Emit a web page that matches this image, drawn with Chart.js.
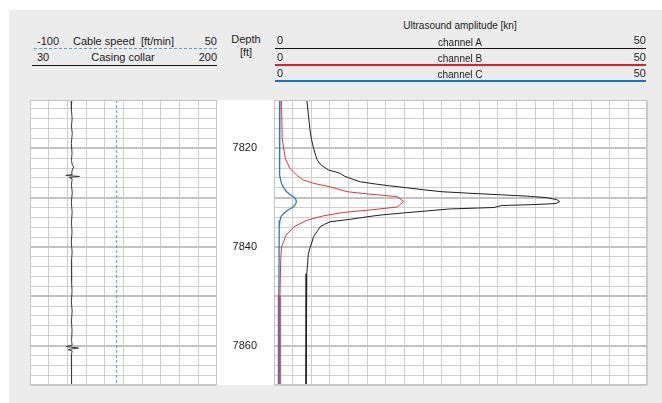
<!DOCTYPE html>
<html>
<head>
<meta charset="utf-8">
<script src="https://cdn.jsdelivr.net/npm/chart.js@4.4.0/dist/chart.umd.min.js"></script>
<style>
    body { margin: 0; width: 662px; height: 403px; background: #fff; overflow: hidden; position: relative;
           font-family: "Liberation Sans", Arial, sans-serif; color: #222; }
    #card { position: absolute; left: 9px; top: 10px; width: 653px; height: 393px; background: #ececec; }
    .t { position: absolute; font-size: 11px; line-height: 13px; white-space: nowrap; z-index: 2; }
    .s { font-size: 10px; }
    .c { text-align: center; width: 200px; }
    .hl { position: absolute; height: 1px; background-color: #111; z-index: 2; }
    .red { background-color: #e0202c; height: 2px; }
    .blue { background-color: #1a70d0; height: 2px; }
    .dash { position: absolute; height: 1px; z-index: 2;
            background: repeating-linear-gradient(90deg, #5b9bd5 0 3px, transparent 3px 5px); }
    canvas { position: absolute; z-index: 1; }
</style>
</head>
<body>
<div id="card"></div>

<!-- left track header -->
<div class="t" style="left:37px;top:35px">-100</div>
<div class="t" style="left:73px;top:35px">Cable speed</div>
<div class="t" style="left:141px;top:35px">[ft/min]</div>
<div class="t" style="right:445px;top:35px">50</div>
<div class="dash" style="left:34px;top:48px;width:183px"></div>
<div class="t" style="left:37px;top:51px">30</div>
<div class="t c" style="left:23px;top:51px">Casing collar</div>
<div class="t" style="right:445px;top:51px">200</div>
<div class="hl" style="left:32px;top:65px;width:185px"></div>

<!-- depth header -->
<div class="t c" style="left:146px;top:33px">Depth</div>
<div class="t c" style="left:146px;top:46px">[ft]</div>

<!-- right track header -->
<div class="t s c" style="left:360px;top:19px">Ultrasound amplitude [kn]</div>
<div class="t" style="left:277px;top:34px">0</div>
<div class="t s c" style="left:360px;top:36px">channel A</div>
<div class="t" style="right:16px;top:34px">50</div>
<div class="hl" style="left:275px;top:48px;width:371px"></div>
<div class="t" style="left:277px;top:51px">0</div>
<div class="t s c" style="left:360px;top:52px">channel B</div>
<div class="t" style="right:16px;top:51px">50</div>
<div class="hl red" style="left:275px;top:64px;width:371px"></div>
<div class="t" style="left:277px;top:67px">0</div>
<div class="t s c" style="left:360px;top:68px">channel C</div>
<div class="t" style="right:16px;top:67px">50</div>
<div class="hl blue" style="left:275px;top:80px;width:371px"></div>

<canvas id="left-track" width="207" height="305" style="left:20px;top:90px"></canvas>
<canvas id="right-track" width="450" height="335" style="left:207px;top:75px"></canvas>

<script>
// depth range and labels
const depthMin = 7810.2;
const depthMax = 7868.0;
const depthLabels = [7820, 7840, 7860];

// casing collar [30..200]
const collarDepth = [7810.2, 7812, 7814, 7815.5, 7817, 7819, 7821, 7822.5, 7823.4, 7823.8, 7824.2, 7825, 7825.3,
    7825.5, 7825.7, 7825.9, 7826.2, 7827.5, 7829, 7831, 7833, 7835, 7837, 7839, 7841, 7843, 7845, 7847, 7849,
    7851, 7853, 7855, 7857, 7859, 7859.9, 7860.2, 7860.5, 7860.8, 7861.1, 7862, 7864, 7866, 7868];
const collarValue = [68.0, 67.6, 68.3, 67.7, 68.4, 67.6, 68.2, 67.7, 68.5, 70.0, 68.6, 67.9, 68.4,
    62.5, 75.0, 65.5, 68.3, 67.7, 68.4, 67.6, 68.3, 67.7, 68.2, 67.5, 68.3, 67.7, 68.1, 67.5, 68.2,
    67.6, 68.3, 67.7, 68.2, 67.8, 68.3, 63.0, 74.0, 64.5, 68.3, 67.6, 68.0, 67.7, 67.6];

// cable speed [-100..50]
const cableDepth = [7810.2, 7868.0];
const cableValue = [-30.5, -30.5];

// ultrasound amplitude [0..50]
const chADepth = [7810.2, 7813, 7816, 7818, 7820, 7821.5, 7822.4, 7823.2, 7823.7, 7824.4, 7824.8, 7825.1, 7825.6,
    7826.1, 7826.8, 7827.3, 7827.6, 7828.0, 7828.4, 7828.8, 7829.1, 7829.4, 7829.7, 7830.0, 7830.4, 7830.8,
    7831.2, 7831.4, 7831.6, 7832.0, 7832.3, 7832.7, 7833.1, 7833.5, 7833.8, 7834.4, 7834.9, 7835.4, 7835.9,
    7836.8, 7837.9, 7839.0, 7840.3, 7841.5, 7843.5, 7845.4, 7848, 7855, 7868];
const chAValue = [4.4, 4.6, 4.8, 5.0, 5.3, 5.6, 5.8, 6.2, 6.6, 7.3, 8.3, 8.9, 9.4,
    10.2, 11.6, 13.9, 15.5, 17.8, 20.0, 22.5, 26.1, 30.0, 34.0, 36.5, 37.9, 38.3,
    37.8, 35.0, 30.5, 29.5, 23.5, 20.5, 17.4, 14.5, 12.9, 10.2, 7.5, 6.8, 6.2,
    5.8, 5.3, 5.1, 4.8, 4.6, 4.5, 4.4, 4.3, 4.3, 4.3];

const chBDepth = [7810.2, 7818, 7822, 7824, 7825.4, 7826.4, 7827.1, 7827.8, 7828.8, 7829.3, 7829.8, 7830.8,
    7831.9, 7832.5, 7833, 7833.7, 7834.6, 7835.9, 7837.6, 7839.3, 7840, 7842.7, 7850, 7868];
const chBValue = [1.0, 1.1, 1.5, 2.1, 3.0, 3.9, 5.3, 7.5, 9.8, 12.9, 16.5, 17.4,
    16.5, 12.9, 9.3, 6.6, 4.4, 2.7, 1.6, 1.2, 1.0, 0.9, 0.8, 0.8];

const chCDepth = [7810.2, 7818, 7822.7, 7825.5, 7827.1, 7828.0, 7828.8, 7829.3, 7829.8, 7830.3, 7830.8,
    7831.3, 7831.9, 7832.3, 7832.7, 7833.2, 7833.7, 7834.6, 7836, 7850, 7868];
const chCValue = [0.8, 0.75, 0.7, 0.8, 1.0, 1.3, 1.7, 2.1, 2.6, 2.9, 3.0,
    2.9, 2.6, 2.1, 1.7, 1.3, 1.0, 0.8, 0.7, 0.65, 0.6];

Chart.defaults.font.family = '"Liberation Sans", Arial, sans-serif';
Chart.defaults.font.size = 11;
Chart.defaults.color = '#222';

function points(depths, values) {
    return depths.map((d, i) => ({ x: values[i], y: d }));
}

// grid every 2 ft, heavier every 10 ft
function depthTicks(scale) {
    const ticks = [];
    for (let d = Math.ceil(depthMin / 2) * 2; d <= depthMax; d += 2) ticks.push({ value: d });
    scale.ticks = ticks;
}

const depthGrid = {
    drawTicks: false,
    color: ctx => (ctx.tick && ctx.tick.value % 10 === 0) ? '#c2c2c2' : '#cfcfcf',
    lineWidth: ctx => (ctx.tick && ctx.tick.value % 10 === 0) ? 2 : 1
};

const trackPaper = {
    id: 'trackPaper',
    beforeDraw(chart) {
        const { ctx, chartArea: a, scales } = chart;
        const left = Math.min(a.left, scales.y.left);
        ctx.save();
        ctx.fillStyle = '#fff';
        ctx.fillRect(left, a.top, a.right - left, a.bottom - a.top);
        ctx.restore();
    },
    afterDraw(chart) {
        const { ctx, chartArea: a } = chart;
        ctx.save();
        ctx.strokeStyle = '#c4c4c4';
        ctx.lineWidth = 1;
        ctx.strokeRect(Math.round(a.left) + 0.5, Math.round(a.top) + 0.5,
            Math.round(a.right - a.left) - 1, Math.round(a.bottom - a.top) - 1);
        ctx.restore();
    }
};

const common = {
    responsive: false,
    animation: false,
    plugins: { legend: { display: false }, tooltip: { enabled: false } },
    elements: { point: { radius: 0 }, line: { tension: 0 } }
};

new Chart(document.getElementById('left-track'), {
    type: 'scatter',
    data: {
        datasets: [
            {
                label: 'Casing collar',
                data: points(collarDepth, collarValue),
                showLine: true,
                borderColor: '#3a3a3a',
                borderWidth: 1,
                xAxisID: 'x'
            },
            {
                label: 'Cable speed',
                data: points(cableDepth, cableValue),
                showLine: true,
                borderColor: '#5b9bd5',
                borderWidth: 1,
                borderDash: [3, 2],
                xAxisID: 'x2'
            }
        ]
    },
    options: {
        ...common,
        layout: { padding: 10 },
        scales: {
            x: {
                min: 30, max: 200,
                ticks: { display: false, stepSize: 17 },
                grid: { drawTicks: false, color: '#cfcfcf' },
                border: { display: false }
            },
            x2: { min: -100, max: 50, display: false },
            y: {
                reverse: true, min: depthMin, max: depthMax,
                afterBuildTicks: depthTicks,
                ticks: { display: false },
                grid: depthGrid,
                border: { display: false }
            }
        }
    },
    plugins: [trackPaper]
});

new Chart(document.getElementById('right-track'), {
    type: 'scatter',
    data: {
        datasets: [
            { label: 'channel A', data: points(chADepth, chAValue), showLine: true, borderColor: '#1e1e1e', borderWidth: 1 },
            { label: 'channel B', data: points(chBDepth, chBValue), showLine: true, borderColor: '#e8343f', borderWidth: 1 },
            { label: 'channel C', data: points(chCDepth, chCValue), showLine: true, borderColor: '#2a78c2', borderWidth: 1.3 }
        ]
    },
    options: {
        ...common,
        layout: { padding: { left: 10, right: 10, top: 25, bottom: 25 } },
        scales: {
            x: {
                min: 0, max: 50,
                ticks: { display: false, stepSize: 2.5 },
                grid: { drawTicks: false, color: '#cfcfcf' },
                border: { display: false }
            },
            y: {
                reverse: true, min: depthMin, max: depthMax,
                position: 'left',
                afterBuildTicks: depthTicks,
                afterFit: scale => { scale.width = 57; },
                ticks: {
                    autoSkip: false,
                    padding: 17,
                    color: '#222',
                    callback: v => depthLabels.includes(v) ? String(v) : ''
                },
                grid: depthGrid,
                border: { display: false }
            }
        }
    },
    plugins: [trackPaper]
});
</script>
</body>
</html>
